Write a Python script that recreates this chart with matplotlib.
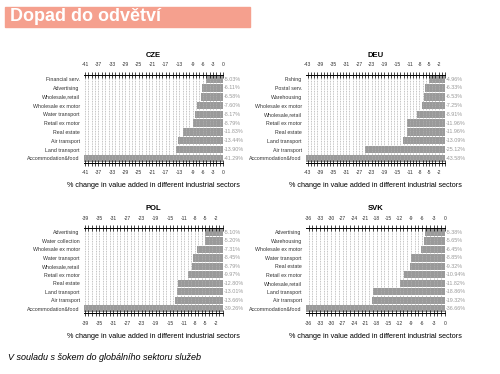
import matplotlib.pyplot as plt
from matplotlib.patches import Rectangle
from matplotlib.ticker import MultipleLocator, FixedLocator

plt.rcParams['font.family'] = ['Liberation Sans', 'DejaVu Sans']
plt.rcParams['axes.unicode_minus'] = False

# data
cze_labels = ['Financial serv.', 'Advertising', 'Wholesale,retail', 'Wholesale ex motor',
              'Water transport', 'Retail ex motor', 'Real estate', 'Air transport',
              'Land transport', 'Accommodation&food']
cze_values = [-5.03, -6.11, -6.58, -7.60, -8.17, -8.79, -11.83, -13.44, -13.90, -41.29]
cze_ticks = [-41, -37, -33, -29, -25, -21, -17, -13, -9, -6, -3, 0]

deu_labels = ['Fishing', 'Postal serv.', 'Warehousing', 'Wholesale ex motor',
              'Wholesale,retail', 'Retail ex motor', 'Real estate', 'Land transport',
              'Air transport', 'Accommodation&food']
deu_values = [-4.96, -6.33, -6.53, -7.25, -8.91, -11.96, -11.96, -13.09, -25.12, -43.58]
deu_ticks = [-43, -39, -35, -31, -27, -23, -19, -15, -11, -8, -5, -2]

pol_labels = ['Advertising', 'Water collection', 'Wholesale ex motor', 'Water transport',
              'Wholesale,retail', 'Retail ex motor', 'Real estate', 'Land transport',
              'Air transport', 'Accommodation&food']
pol_values = [-5.10, -5.20, -7.31, -8.45, -8.79, -9.97, -12.80, -13.01, -13.66, -39.26]
pol_ticks = [-39, -35, -31, -27, -23, -19, -15, -11, -8, -5, -2]

svk_labels = ['Advertising', 'Warehousing', 'Wholesale ex motor', 'Water transport',
              'Real estate', 'Retail ex motor', 'Wholesale,retail', 'Land transport',
              'Air transport', 'Accommodation&food']
svk_values = [-5.38, -5.65, -6.45, -8.85, -9.32, -10.94, -11.82, -18.86, -19.32, -36.66]
svk_ticks = [-36, -33, -30, -27, -24, -21, -18, -15, -12, -9, -6, -3, 0]

xlabel = '% change in value added in different industrial sectors'

fig = plt.figure(figsize=(5, 3.74), dpi=100)

# banner
fig.patches.append(Rectangle((0.01, 0.928), 0.49, 0.054, transform=fig.transFigure,
                             color='#f5a08e', zorder=0))
fig.text(0.02, 0.955, 'Dopad do odvětví', color='white', fontsize=13,
         fontweight='bold', va='center', ha='left')


def panel(rect, name, labels, values, ticks):
    ax = fig.add_axes(rect)
    y = list(range(len(labels)))
    ax.barh(y, values, height=0.86, color='#9a9a9a', zorder=1)
    ax.set_xlim(min(values), 0)
    ax.set_ylim(len(labels) - 0.5, -0.5)
    ax.xaxis.set_major_locator(FixedLocator(ticks))
    ax.xaxis.set_minor_locator(MultipleLocator(1))
    ax.grid(axis='x', which='both', color='#b0b0b0', linestyle=(0, (1, 1)),
            linewidth=0.6, zorder=2)
    ax.set_axisbelow(False)
    for s in ['left', 'right']:
        ax.spines[s].set_visible(False)
    for s in ['top', 'bottom']:
        ax.spines[s].set_linewidth(0.7)
    ax.tick_params(axis='x', which='both', top=True, bottom=True,
                   labeltop=True, labelbottom=True, direction='inout',
                   length=5, width=0.5, labelsize=3.6, pad=3, labelcolor='#333333')
    ax.tick_params(axis='y', length=0, labelsize=3.8, pad=3, labelcolor='#333333')
    ax.set_yticks(y)
    ax.set_yticklabels(labels)
    for yi, v in zip(y, values):
        ax.text(1.005, yi, f'{v:.2f}%', transform=ax.get_yaxis_transform(),
                fontsize=3.9, color='#999999', va='center', ha='left')
    ax.set_title(name, fontsize=5.5, fontweight='bold', pad=13)
    ax.set_xlabel(xlabel, fontsize=5.2, labelpad=5)
    return ax


panel([0.168, 0.565, 0.278, 0.235], 'CZE', cze_labels, cze_values, cze_ticks)
panel([0.612, 0.565, 0.278, 0.235], 'DEU', deu_labels, deu_values, deu_ticks)
panel([0.168, 0.163, 0.278, 0.227], 'POL', pol_labels, pol_values, pol_ticks)
panel([0.612, 0.163, 0.278, 0.227], 'SVK', svk_labels, svk_values, svk_ticks)

fig.text(0.016, 0.045, 'V souladu s šokem do globálního sektoru služeb',
         fontsize=6.5, fontstyle='italic', ha='left', va='center')

fig.savefig('out.png', dpi=100)
